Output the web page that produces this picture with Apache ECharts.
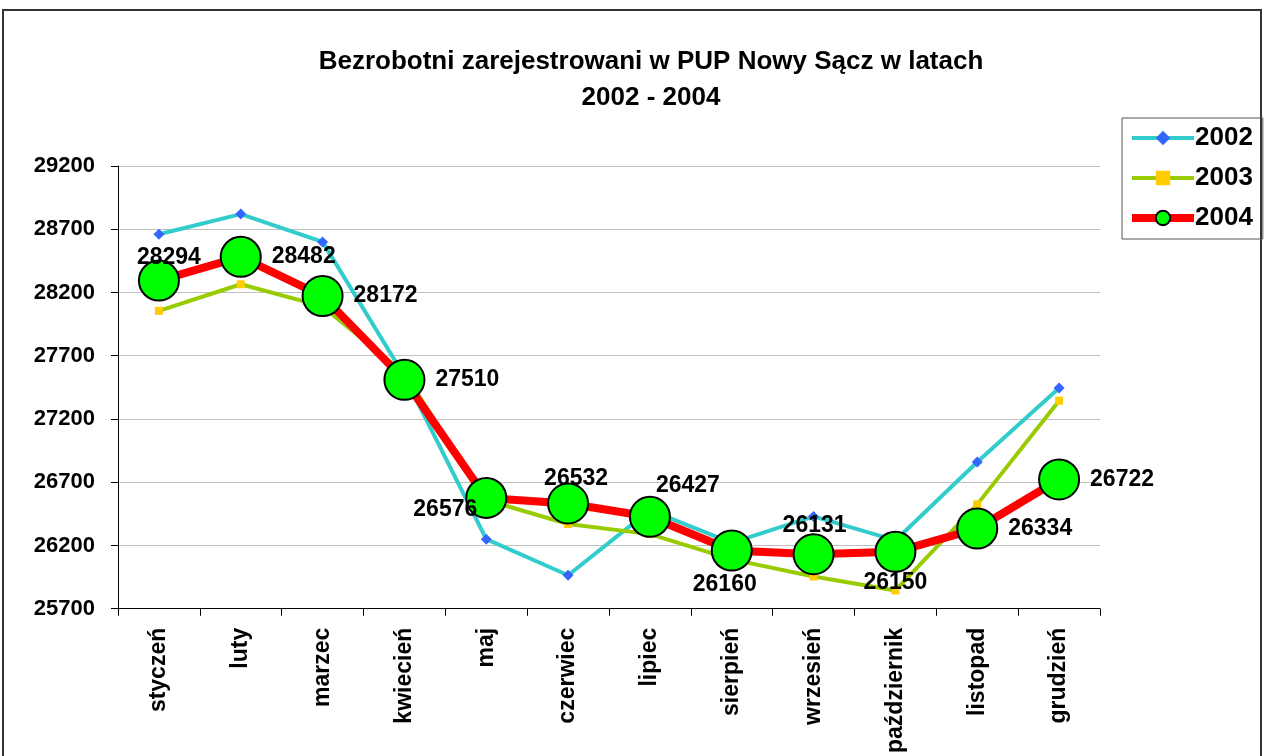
<!DOCTYPE html>
<html>
<head>
<meta charset="utf-8">
<script src="https://cdn.jsdelivr.net/npm/echarts@6/dist/echarts.min.js"></script>
<style>
    html, body { margin: 0; padding: 0; background: #fff; }
    #chart { width: 1268px; height: 756px; }
</style>
</head>
<body>
<div id="chart"></div>
<script>
// miesiace
var months = ['styczeń', 'luty', 'marzec', 'kwiecień', 'maj', 'czerwiec', 'lipiec',
    'sierpień', 'wrzesień', 'październik', 'listopad', 'grudzień'];
// liczba bezrobotnych w poszczegolnych latach
var y2002 = [28660, 28820, 28600, 27540, 26250, 25965, 26480, 26220, 26430, 26240, 26860, 27445];
var y2003 = [28055, 28265, 28090, 27560, 26560, 26370, 26290, 26090, 25955, 25845, 26525, 27345];
var y2004 = [28294, 28482, 28172, 27510, 26576, 26532, 26427, 26160, 26131, 26150, 26334, 26722];
// polozenie etykiet dla 2004
var labelPos = ['top', 'right', 'right', 'right', 'left', 'top', 'top', 'bottom', 'top', 'bottom', 'right', 'right'];
var labelOff = [[10, 20], [0, 0], [0, 0], [0, 0], [22, 12], [8, 18], [38, 11], [-7, -8], [1, 14], [0, -12], [0, 0], [0, 0]];

window.onload = function () {
    initChart();
}

function initChart() {
    var chart = echarts.init(document.getElementById('chart'));
    var font = 'Arial, "Liberation Sans", sans-serif';

    var data2004 = y2004.map(function (v, i) {
        return {
            value: v,
            label: { position: labelPos[i], offset: labelOff[i] }
        };
    });

    chart.setOption({
        animation: false,
        backgroundColor: '#fff',
        title: {
            text: 'Bezrobotni zarejestrowani w PUP Nowy Sącz w latach\n2002 - 2004',
            left: 646,
            top: 39,
            textAlign: 'center',
            textStyle: {
                fontFamily: font,
                fontWeight: 'bold',
                fontSize: 26,
                lineHeight: 36,
                color: '#000'
            }
        },
        graphic: [{
            type: 'rect',
            shape: { x: 3, y: 10, width: 1258, height: 800 },
            style: { fill: 'none', stroke: '#333', lineWidth: 2 },
            silent: true
        }],
        legend: {
            orient: 'vertical',
            left: 1122,
            top: 118,
            itemWidth: 62,
            itemHeight: 18,
            itemGap: 14,
            padding: [7, 10, 8, 6],
            borderColor: '#555',
            borderWidth: 1,
            lineStyle: { width: 'inherit' },
            textStyle: {
                fontFamily: font,
                fontWeight: 'bold',
                fontSize: 26,
                color: '#000',
                padding: [0, 0, 0, -4]
            },
            data: ['2002', '2003', '2004']
        },
        grid: {
            left: 118,
            right: 168,
            top: 166,
            bottom: 147
        },
        xAxis: {
            type: 'category',
            data: months,
            boundaryGap: true,
            axisLine: { lineStyle: { color: '#000', width: 1 } },
            axisTick: { show: true, length: 7, lineStyle: { color: '#000' } },
            axisLabel: {
                rotate: 90,
                interval: 0,
                margin: 19,
                fontFamily: font,
                fontWeight: 'bold',
                fontSize: 23,
                color: '#000'
            }
        },
        yAxis: {
            type: 'value',
            min: 25700,
            max: 29200,
            interval: 500,
            axisLine: { show: true, lineStyle: { color: '#000', width: 1 } },
            axisTick: { show: true, length: 7, lineStyle: { color: '#000' } },
            axisLabel: {
                margin: 23,
                formatter: function (v) { return String(v); },
                fontFamily: font,
                fontWeight: 'bold',
                fontSize: 22,
                color: '#000'
            },
            splitLine: { lineStyle: { color: '#c0c0c0', width: 1 } }
        },
        series: [{
            name: '2002',
            type: 'line',
            data: y2002,
            symbol: 'diamond',
            symbolSize: 11,
            itemStyle: { color: '#3366ff' },
            lineStyle: { color: '#33cccc', width: 4 },
            z: 2
        }, {
            name: '2003',
            type: 'line',
            data: y2003,
            symbol: 'rect',
            symbolSize: 8,
            itemStyle: { color: '#ffcc00' },
            lineStyle: { color: '#99cc00', width: 4 },
            z: 3
        }, {
            name: '2004',
            type: 'line',
            data: data2004,
            symbol: 'circle',
            symbolSize: 40,
            itemStyle: { color: '#00ff00', borderColor: '#000', borderWidth: 2 },
            lineStyle: { color: '#ff0000', width: 8 },
            label: {
                show: true,
                distance: 10,
                fontFamily: font,
                fontWeight: 'bold',
                fontSize: 23,
                color: '#000'
            },
            z: 4
        }]
    });
}
</script>
</body>
</html>
